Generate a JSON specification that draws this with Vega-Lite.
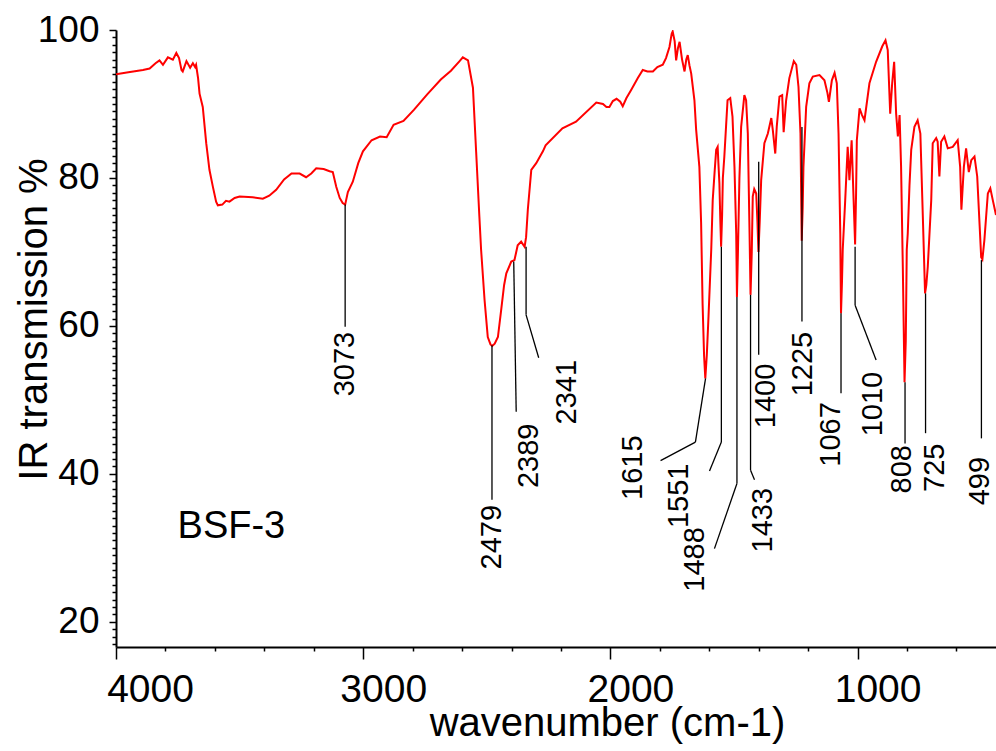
{
  "$schema": "https://vega.github.io/schema/vega-lite/v6.json",
  "width": 880,
  "height": 617,
  "autosize": {"type": "none"},
  "padding": {"left": 116, "top": 30, "right": 0, "bottom": 104},
  "background": "white",
  "config": {"view": {"stroke": null}, "font": "Liberation Sans", "axis": {"grid": false}},
  "datasets": {
    "spectrum": [
      {"wavenumber": 4000, "transmission": 94.0}, {"wavenumber": 3950, "transmission": 94.3},
      {"wavenumber": 3891, "transmission": 94.6}, {"wavenumber": 3864, "transmission": 94.8},
      {"wavenumber": 3840, "transmission": 95.5}, {"wavenumber": 3824, "transmission": 95.9},
      {"wavenumber": 3810, "transmission": 95.3}, {"wavenumber": 3790, "transmission": 96.3},
      {"wavenumber": 3770, "transmission": 96.0}, {"wavenumber": 3756, "transmission": 96.9},
      {"wavenumber": 3745, "transmission": 96.2}, {"wavenumber": 3735, "transmission": 94.6},
      {"wavenumber": 3730, "transmission": 94.4}, {"wavenumber": 3715, "transmission": 95.8},
      {"wavenumber": 3700, "transmission": 94.9}, {"wavenumber": 3689, "transmission": 95.5},
      {"wavenumber": 3680, "transmission": 95.0}, {"wavenumber": 3676, "transmission": 95.3},
      {"wavenumber": 3668, "transmission": 93.5}, {"wavenumber": 3662, "transmission": 91.4},
      {"wavenumber": 3649, "transmission": 89.6}, {"wavenumber": 3635, "transmission": 84.7},
      {"wavenumber": 3622, "transmission": 81.1}, {"wavenumber": 3608, "transmission": 78.8},
      {"wavenumber": 3595, "transmission": 76.8}, {"wavenumber": 3588, "transmission": 76.3},
      {"wavenumber": 3570, "transmission": 76.4}, {"wavenumber": 3555, "transmission": 76.9},
      {"wavenumber": 3541, "transmission": 76.8}, {"wavenumber": 3520, "transmission": 77.3},
      {"wavenumber": 3500, "transmission": 77.5}, {"wavenumber": 3447, "transmission": 77.4},
      {"wavenumber": 3406, "transmission": 77.2}, {"wavenumber": 3380, "transmission": 77.6},
      {"wavenumber": 3352, "transmission": 78.4}, {"wavenumber": 3320, "transmission": 79.8},
      {"wavenumber": 3290, "transmission": 80.6}, {"wavenumber": 3257, "transmission": 80.6},
      {"wavenumber": 3231, "transmission": 80.1}, {"wavenumber": 3210, "transmission": 80.6},
      {"wavenumber": 3190, "transmission": 81.3}, {"wavenumber": 3160, "transmission": 81.2},
      {"wavenumber": 3136, "transmission": 80.9}, {"wavenumber": 3123, "transmission": 80.8},
      {"wavenumber": 3109, "transmission": 78.8}, {"wavenumber": 3095, "transmission": 77.3},
      {"wavenumber": 3083, "transmission": 76.6}, {"wavenumber": 3073, "transmission": 76.4},
      {"wavenumber": 3062, "transmission": 78.1}, {"wavenumber": 3042, "transmission": 79.5},
      {"wavenumber": 3020, "transmission": 82.0}, {"wavenumber": 3001, "transmission": 83.6},
      {"wavenumber": 2966, "transmission": 85.1}, {"wavenumber": 2932, "transmission": 85.6},
      {"wavenumber": 2905, "transmission": 85.5}, {"wavenumber": 2877, "transmission": 87.2},
      {"wavenumber": 2837, "transmission": 87.7}, {"wavenumber": 2795, "transmission": 89.2},
      {"wavenumber": 2741, "transmission": 91.3}, {"wavenumber": 2686, "transmission": 93.3},
      {"wavenumber": 2645, "transmission": 94.5}, {"wavenumber": 2610, "transmission": 95.8},
      {"wavenumber": 2597, "transmission": 96.3}, {"wavenumber": 2576, "transmission": 95.9},
      {"wavenumber": 2556, "transmission": 92.2}, {"wavenumber": 2543, "transmission": 83.5},
      {"wavenumber": 2530, "transmission": 74.8}, {"wavenumber": 2523, "transmission": 70.3},
      {"wavenumber": 2509, "transmission": 63.5}, {"wavenumber": 2496, "transmission": 58.5},
      {"wavenumber": 2485, "transmission": 57.5}, {"wavenumber": 2478, "transmission": 57.3},
      {"wavenumber": 2468, "transmission": 57.6}, {"wavenumber": 2455, "transmission": 58.5},
      {"wavenumber": 2442, "transmission": 62.1}, {"wavenumber": 2430, "transmission": 65.5},
      {"wavenumber": 2421, "transmission": 67.1}, {"wavenumber": 2401, "transmission": 68.7},
      {"wavenumber": 2388, "transmission": 68.9}, {"wavenumber": 2375, "transmission": 70.9},
      {"wavenumber": 2361, "transmission": 71.4}, {"wavenumber": 2347, "transmission": 70.7},
      {"wavenumber": 2341, "transmission": 72.0}, {"wavenumber": 2334, "transmission": 75.7},
      {"wavenumber": 2320, "transmission": 81.1}, {"wavenumber": 2300, "transmission": 82.0},
      {"wavenumber": 2273, "transmission": 83.6}, {"wavenumber": 2262, "transmission": 84.4},
      {"wavenumber": 2194, "transmission": 86.7}, {"wavenumber": 2139, "transmission": 87.6},
      {"wavenumber": 2057, "transmission": 90.2}, {"wavenumber": 2030, "transmission": 90.0},
      {"wavenumber": 2016, "transmission": 89.6}, {"wavenumber": 2004, "transmission": 89.6},
      {"wavenumber": 1990, "transmission": 90.4}, {"wavenumber": 1975, "transmission": 90.7},
      {"wavenumber": 1960, "transmission": 90.3}, {"wavenumber": 1950, "transmission": 89.7},
      {"wavenumber": 1935, "transmission": 90.8}, {"wavenumber": 1916, "transmission": 91.9},
      {"wavenumber": 1889, "transmission": 93.5}, {"wavenumber": 1869, "transmission": 94.6},
      {"wavenumber": 1850, "transmission": 94.4}, {"wavenumber": 1828, "transmission": 94.4},
      {"wavenumber": 1810, "transmission": 95.0}, {"wavenumber": 1788, "transmission": 95.3},
      {"wavenumber": 1775, "transmission": 96.2}, {"wavenumber": 1761, "transmission": 97.7},
      {"wavenumber": 1752, "transmission": 99.5}, {"wavenumber": 1748, "transmission": 99.8},
      {"wavenumber": 1740, "transmission": 98.5}, {"wavenumber": 1734, "transmission": 95.9},
      {"wavenumber": 1727, "transmission": 97.5}, {"wavenumber": 1720, "transmission": 98.4},
      {"wavenumber": 1710, "transmission": 96.0}, {"wavenumber": 1700, "transmission": 94.4},
      {"wavenumber": 1693, "transmission": 96.0}, {"wavenumber": 1687, "transmission": 96.6},
      {"wavenumber": 1680, "transmission": 95.2}, {"wavenumber": 1673, "transmission": 94.1},
      {"wavenumber": 1660, "transmission": 90.5}, {"wavenumber": 1653, "transmission": 86.5},
      {"wavenumber": 1640, "transmission": 81.5}, {"wavenumber": 1633, "transmission": 74.0},
      {"wavenumber": 1627, "transmission": 63.0}, {"wavenumber": 1621, "transmission": 56.0},
      {"wavenumber": 1616, "transmission": 52.9}, {"wavenumber": 1610, "transmission": 56.0},
      {"wavenumber": 1603, "transmission": 61.3}, {"wavenumber": 1592, "transmission": 70.3},
      {"wavenumber": 1586, "transmission": 77.0}, {"wavenumber": 1578, "transmission": 81.0},
      {"wavenumber": 1572, "transmission": 83.8}, {"wavenumber": 1566, "transmission": 84.2},
      {"wavenumber": 1563, "transmission": 82.0}, {"wavenumber": 1559, "transmission": 79.3},
      {"wavenumber": 1555, "transmission": 74.0}, {"wavenumber": 1552, "transmission": 70.7},
      {"wavenumber": 1548, "transmission": 75.0}, {"wavenumber": 1545, "transmission": 80.0},
      {"wavenumber": 1539, "transmission": 82.9}, {"wavenumber": 1532, "transmission": 87.0},
      {"wavenumber": 1526, "transmission": 90.5}, {"wavenumber": 1515, "transmission": 90.8},
      {"wavenumber": 1506, "transmission": 88.3}, {"wavenumber": 1498, "transmission": 81.5},
      {"wavenumber": 1491, "transmission": 72.5}, {"wavenumber": 1488, "transmission": 63.9},
      {"wavenumber": 1484, "transmission": 70.0}, {"wavenumber": 1478, "transmission": 80.0},
      {"wavenumber": 1471, "transmission": 86.9}, {"wavenumber": 1458, "transmission": 91.2},
      {"wavenumber": 1451, "transmission": 90.5}, {"wavenumber": 1444, "transmission": 86.0},
      {"wavenumber": 1437, "transmission": 72.5}, {"wavenumber": 1433, "transmission": 64.2},
      {"wavenumber": 1428, "transmission": 70.0}, {"wavenumber": 1424, "transmission": 77.5},
      {"wavenumber": 1418, "transmission": 78.5}, {"wavenumber": 1410, "transmission": 77.9},
      {"wavenumber": 1405, "transmission": 74.0}, {"wavenumber": 1401, "transmission": 70.0},
      {"wavenumber": 1396, "transmission": 74.0}, {"wavenumber": 1390, "transmission": 79.7},
      {"wavenumber": 1377, "transmission": 84.7}, {"wavenumber": 1363, "transmission": 86.0},
      {"wavenumber": 1349, "transmission": 88.1}, {"wavenumber": 1343, "transmission": 86.5},
      {"wavenumber": 1333, "transmission": 83.3}, {"wavenumber": 1327, "transmission": 86.9},
      {"wavenumber": 1316, "transmission": 91.0}, {"wavenumber": 1305, "transmission": 91.2},
      {"wavenumber": 1299, "transmission": 86.2}, {"wavenumber": 1289, "transmission": 90.5},
      {"wavenumber": 1276, "transmission": 93.5}, {"wavenumber": 1258, "transmission": 95.8},
      {"wavenumber": 1248, "transmission": 95.3}, {"wavenumber": 1239, "transmission": 92.3},
      {"wavenumber": 1231, "transmission": 86.0}, {"wavenumber": 1226, "transmission": 71.5},
      {"wavenumber": 1222, "transmission": 76.0}, {"wavenumber": 1219, "transmission": 81.5},
      {"wavenumber": 1208, "transmission": 89.6}, {"wavenumber": 1195, "transmission": 92.8},
      {"wavenumber": 1181, "transmission": 93.7}, {"wavenumber": 1154, "transmission": 93.9},
      {"wavenumber": 1134, "transmission": 93.2}, {"wavenumber": 1122, "transmission": 91.5},
      {"wavenumber": 1116, "transmission": 90.3}, {"wavenumber": 1104, "transmission": 93.2},
      {"wavenumber": 1093, "transmission": 94.2}, {"wavenumber": 1084, "transmission": 92.8},
      {"wavenumber": 1077, "transmission": 86.0}, {"wavenumber": 1070, "transmission": 72.5},
      {"wavenumber": 1067, "transmission": 61.7}, {"wavenumber": 1063, "transmission": 66.0},
      {"wavenumber": 1060, "transmission": 70.3}, {"wavenumber": 1050, "transmission": 77.0},
      {"wavenumber": 1040, "transmission": 84.2}, {"wavenumber": 1033, "transmission": 79.7},
      {"wavenumber": 1024, "transmission": 85.1}, {"wavenumber": 1016, "transmission": 77.0},
      {"wavenumber": 1010, "transmission": 71.0}, {"wavenumber": 1006, "transmission": 78.0},
      {"wavenumber": 1003, "transmission": 85.1}, {"wavenumber": 992, "transmission": 89.4},
      {"wavenumber": 982, "transmission": 88.5}, {"wavenumber": 972, "transmission": 87.8},
      {"wavenumber": 952, "transmission": 92.8}, {"wavenumber": 925, "transmission": 95.7},
      {"wavenumber": 900, "transmission": 97.8}, {"wavenumber": 887, "transmission": 98.6},
      {"wavenumber": 878, "transmission": 97.3}, {"wavenumber": 868, "transmission": 88.7},
      {"wavenumber": 860, "transmission": 92.8}, {"wavenumber": 852, "transmission": 95.7},
      {"wavenumber": 844, "transmission": 88.7}, {"wavenumber": 837, "transmission": 85.6},
      {"wavenumber": 830, "transmission": 88.5}, {"wavenumber": 824, "transmission": 81.5},
      {"wavenumber": 817, "transmission": 68.0}, {"wavenumber": 810, "transmission": 52.4},
      {"wavenumber": 805, "transmission": 58.0}, {"wavenumber": 801, "transmission": 70.3},
      {"wavenumber": 797, "transmission": 72.5}, {"wavenumber": 790, "transmission": 79.0},
      {"wavenumber": 783, "transmission": 83.8}, {"wavenumber": 770, "transmission": 86.9},
      {"wavenumber": 757, "transmission": 87.8}, {"wavenumber": 746, "transmission": 86.0},
      {"wavenumber": 736, "transmission": 74.8}, {"wavenumber": 727, "transmission": 64.4},
      {"wavenumber": 722, "transmission": 65.5}, {"wavenumber": 716, "transmission": 68.0},
      {"wavenumber": 702, "transmission": 77.0}, {"wavenumber": 696, "transmission": 84.7},
      {"wavenumber": 682, "transmission": 85.4}, {"wavenumber": 676, "transmission": 84.9},
      {"wavenumber": 669, "transmission": 80.2}, {"wavenumber": 662, "transmission": 84.9},
      {"wavenumber": 649, "transmission": 85.6}, {"wavenumber": 635, "transmission": 84.0},
      {"wavenumber": 615, "transmission": 84.2}, {"wavenumber": 595, "transmission": 85.1},
      {"wavenumber": 585, "transmission": 81.5}, {"wavenumber": 580, "transmission": 75.7},
      {"wavenumber": 570, "transmission": 81.5}, {"wavenumber": 561, "transmission": 84.0},
      {"wavenumber": 550, "transmission": 80.8}, {"wavenumber": 540, "transmission": 82.4},
      {"wavenumber": 527, "transmission": 82.9}, {"wavenumber": 516, "transmission": 80.2},
      {"wavenumber": 506, "transmission": 73.4}, {"wavenumber": 500, "transmission": 69.3},
      {"wavenumber": 495, "transmission": 69.0}, {"wavenumber": 487, "transmission": 71.6},
      {"wavenumber": 473, "transmission": 77.9}, {"wavenumber": 463, "transmission": 78.6},
      {"wavenumber": 453, "transmission": 77.0}, {"wavenumber": 440, "transmission": 75.0}
    ],
    "leaders": [
      {"peak": "3073", "w1": 3073, "t1": 76.4, "w2": 3073, "t2": 59.9},
      {"peak": "2479", "w1": 2479, "t1": 57.4, "w2": 2479, "t2": 36.5},
      {"peak": "2389", "w1": 2391, "t1": 68.7, "w2": 2381, "t2": 48.4},
      {"peak": "2341", "w1": 2341, "t1": 70.7, "w2": 2341, "t2": 61.5},
      {"peak": "2341", "w1": 2341, "t1": 61.5, "w2": 2290, "t2": 55.7},
      {"peak": "1615", "w1": 1615, "t1": 52.9, "w2": 1656, "t2": 44.3},
      {"peak": "1615", "w1": 1656, "t1": 44.3, "w2": 1797, "t2": 41.8},
      {"peak": "1551", "w1": 1551, "t1": 70.7, "w2": 1551, "t2": 44.3},
      {"peak": "1551", "w1": 1551, "t1": 44.3, "w2": 1599, "t2": 40.4},
      {"peak": "1488", "w1": 1488, "t1": 63.9, "w2": 1488, "t2": 38.7},
      {"peak": "1488", "w1": 1488, "t1": 38.7, "w2": 1579, "t2": 29.9},
      {"peak": "1433", "w1": 1433, "t1": 64.2, "w2": 1433, "t2": 40.5},
      {"peak": "1433", "w1": 1433, "t1": 40.5, "w2": 1417, "t2": 39.2},
      {"peak": "1400", "w1": 1400, "t1": 82.2, "w2": 1400, "t2": 56.1},
      {"peak": "1225", "w1": 1225, "t1": 86.9, "w2": 1225, "t2": 60.6},
      {"peak": "1067", "w1": 1067, "t1": 61.7, "w2": 1067, "t2": 50.9},
      {"peak": "1010", "w1": 1010, "t1": 70.7, "w2": 1010, "t2": 62.8},
      {"peak": "1010", "w1": 1010, "t1": 62.8, "w2": 925, "t2": 55.4},
      {"peak": "808", "w1": 808, "t1": 52.4, "w2": 808, "t2": 44.1},
      {"peak": "725", "w1": 725, "t1": 64.4, "w2": 725, "t2": 45.5},
      {"peak": "499", "w1": 499, "t1": 68.9, "w2": 499, "t2": 44.8}
    ],
    "labels": [
      {"label": "3073", "wavenumber": 3073, "transmission": 59.2},
      {"label": "2479", "wavenumber": 2479, "transmission": 35.8},
      {"label": "2389", "wavenumber": 2331, "transmission": 46.8},
      {"label": "2341", "wavenumber": 2175, "transmission": 55.4},
      {"label": "1615", "wavenumber": 1909, "transmission": 45.2},
      {"label": "1551", "wavenumber": 1724, "transmission": 41.4},
      {"label": "1488", "wavenumber": 1656, "transmission": 32.8},
      {"label": "1433", "wavenumber": 1383, "transmission": 38.1},
      {"label": "1400", "wavenumber": 1370, "transmission": 54.9},
      {"label": "1225", "wavenumber": 1219, "transmission": 59.2},
      {"label": "1067", "wavenumber": 1107, "transmission": 49.7},
      {"label": "1010", "wavenumber": 938, "transmission": 53.8},
      {"label": "808", "wavenumber": 820, "transmission": 43.9},
      {"label": "725", "wavenumber": 686, "transmission": 44.1},
      {"label": "499", "wavenumber": 504, "transmission": 42.3}
    ],
    "sample": [
      {"name": "BSF-3", "wavenumber": 3751, "transmission": 31.3}
    ]
  },
  "layer": [
    {
      "data": {"name": "spectrum"},
      "mark": {"type": "line", "color": "#ff0000", "strokeWidth": 2, "clip": true},
      "encoding": {
        "x": {
          "field": "wavenumber", "type": "quantitative",
          "scale": {"domain": [440, 4000], "reverse": true, "nice": false, "zero": false},
          "axis": {
            "orient": "bottom", "values": [1000, 2000, 3000, 4000], "format": "d",
            "title": "wavenumber (cm-1)",
            "domainColor": "black", "domainWidth": 2,
            "tickColor": "black", "tickWidth": 1.5, "tickSize": 12,
            "labelFont": "Liberation Sans", "labelFontSize": 39, "labelColor": "black",
            "labelBaseline": "alphabetic", "labelPadding": 42, "labelFlush": false, "labelOverlap": false,
            "labelOffset": {"condition": {"test": "datum.value == 4000", "value": 34}, "value": 20},
            "titleFont": "Liberation Sans", "titleFontSize": 40, "titleFontWeight": "normal", "titleColor": "black",
            "titleX": 491, "titleY": 88, "titleAlign": "center", "titleBaseline": "alphabetic", "titleAnchor": null
          }
        },
        "y": {
          "field": "transmission", "type": "quantitative",
          "scale": {"domain": [16.6, 100], "nice": false, "zero": false},
          "axis": {
            "orient": "left", "values": [20, 40, 60, 80, 100], "format": "d",
            "title": "IR transmission %",
            "domainColor": "black", "domainWidth": 2,
            "tickColor": "black", "tickWidth": 1.5, "tickSize": 7,
            "labelFont": "Liberation Sans", "labelFontSize": 37, "labelColor": "black",
            "labelPadding": 10, "labelFlush": false, "labelOverlap": false, "labelBaseline": "middle",
            "titleFont": "Liberation Sans", "titleFontSize": 40, "titleFontWeight": "normal", "titleColor": "black",
            "titleAngle": 270, "titleX": -70, "titleY": 289, "titleAlign": "center", "titleBaseline": "alphabetic", "titleAnchor": null
          }
        }
      }
    },
    {
      "data": {"name": "leaders"},
      "mark": {"type": "rule", "color": "black", "strokeWidth": 1.3},
      "encoding": {
        "x": {
          "field": "w1", "type": "quantitative",
          "axis": {
            "orient": "bottom", "values": [600, 800, 1200, 1400, 1600, 1800, 2200, 2400, 2600, 2800, 3200, 3400, 3600, 3800],
            "domain": false, "labels": false, "title": null, "tickColor": "black", "tickWidth": 1.5, "tickSize": 4
          }
        },
        "x2": {"field": "w2"},
        "y": {
          "field": "t1", "type": "quantitative",
          "axis": {
            "orient": "left",
            "values": [17, 18, 19, 21, 22, 23, 24, 25, 26, 27, 28, 29, 30, 31, 32, 33, 34, 35, 36, 37, 38, 39, 41, 42, 43, 44, 45, 46, 47, 48, 49, 50, 51, 52, 53, 54, 55, 56, 57, 58, 59, 61, 62, 63, 64, 65, 66, 67, 68, 69, 70, 71, 72, 73, 74, 75, 76, 77, 78, 79, 81, 82, 83, 84, 85, 86, 87, 88, 89, 90, 91, 92, 93, 94, 95, 96, 97, 98, 99],
            "domain": false, "labels": false, "title": null, "tickColor": "black", "tickWidth": 1.5, "tickSize": 4
          }
        },
        "y2": {"field": "t2"}
      }
    },
    {
      "data": {"name": "labels"},
      "mark": {"type": "text", "angle": 270, "align": "right", "baseline": "middle", "font": "Liberation Sans", "fontSize": 29, "color": "black"},
      "encoding": {
        "x": {"field": "wavenumber", "type": "quantitative", "axis": null},
        "y": {"field": "transmission", "type": "quantitative", "axis": null},
        "text": {"field": "label"}
      }
    },
    {
      "data": {"name": "sample"},
      "mark": {"type": "text", "align": "left", "baseline": "alphabetic", "font": "Liberation Sans", "fontSize": 38, "color": "black"},
      "encoding": {
        "x": {"field": "wavenumber", "type": "quantitative", "axis": null},
        "y": {"field": "transmission", "type": "quantitative", "axis": null},
        "text": {"field": "name"}
      }
    },
    {
      "mark": {"type": "rule", "color": "black", "strokeWidth": 2},
      "encoding": {
        "y": {"datum": 100, "type": "quantitative", "axis": null}
      }
    }
  ],
  "resolve": {"axis": {"x": "independent", "y": "independent"}}
}
